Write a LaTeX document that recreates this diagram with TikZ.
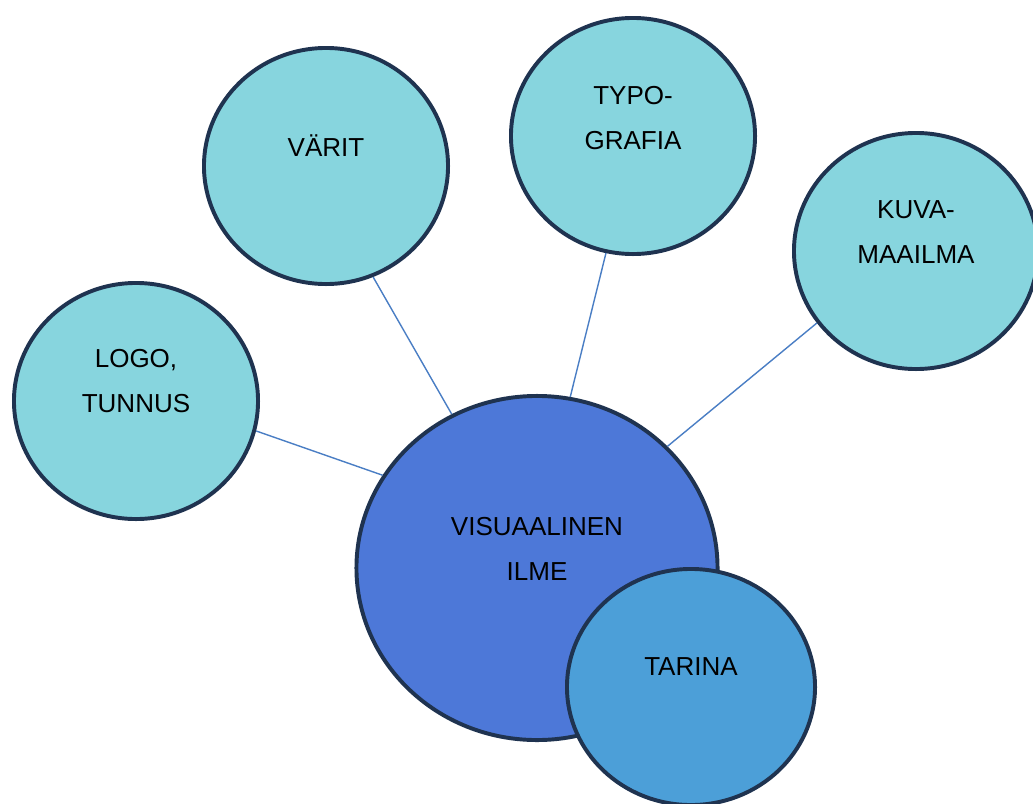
\documentclass[tikz,border=0pt]{standalone}
\usepackage{fontspec}
\setmainfont{Liberation Sans}
\usetikzlibrary{shapes.geometric}

\definecolor{kupla}{HTML}{87D5DE}
\definecolor{keski}{HTML}{4D78D8}
\definecolor{tarinasin}{HTML}{4C9FD8}
\definecolor{reuna}{HTML}{1F3350}
\definecolor{viiva}{HTML}{4A7EC4}

\tikzset{
    kuplanode/.style={ellipse, draw=reuna, line width=2.8pt, fill=kupla,
        minimum width=6.1cm, minimum height=5.9cm, inner sep=0pt},
    teksti/.style={align=center, font=\fontsize{18.5}{32}\selectfont, inner sep=0pt},
    yhteys/.style={draw=viiva, line width=1pt}
}

\begin{document}
\begin{tikzpicture}[x=0.025cm, y=-0.025cm]
    \useasboundingbox (0,0) rectangle (1033,803);

    % Kuplat
    \node[kuplanode] (logo) at (136,401) {};
    \node[kuplanode] (varit) at (326,166) {};
    \node[kuplanode] (typo) at (633,136) {};
    \node[kuplanode] (kuva) at (916,251) {};
    \node[kuplanode, fill=keski, minimum width=9.025cm, minimum height=8.6cm] (ilme) at (537,568) {};
    \node[kuplanode, fill=tarinasin, minimum width=6.2cm] (tarina) at (691,687) {};

    % Tekstit
    \node[teksti] (logo-t) at ([yshift=0.5cm]logo.center) {LOGO,\\TUNNUS};
    \node[teksti] (varit-t) at ([yshift=0.5cm]varit.center) {VÄRIT};
    \node[teksti] (typo-t) at ([yshift=0.45cm]typo.center) {TYPO-\\GRAFIA};
    \node[teksti] (kuva-t) at ([yshift=0.48cm]kuva.center) {KUVA-\\MAAILMA};
    \node[teksti] (ilme-t) at ([yshift=0.48cm]ilme.center) {VISUAALINEN\\ILME};
    \node[teksti] (tarina-t) at ([yshift=0.5cm]tarina.center) {TARINA};

    % Yhteydet keskelle
    \draw[yhteys] (logo.-14) -- (ilme.149);
    \draw[yhteys] (varit.-67) -- (ilme.119);
    \draw[yhteys] (typo.-103) -- (ilme.79);
    \draw[yhteys] (kuva.-144) -- (ilme.43);

\end{tikzpicture}
\end{document}
